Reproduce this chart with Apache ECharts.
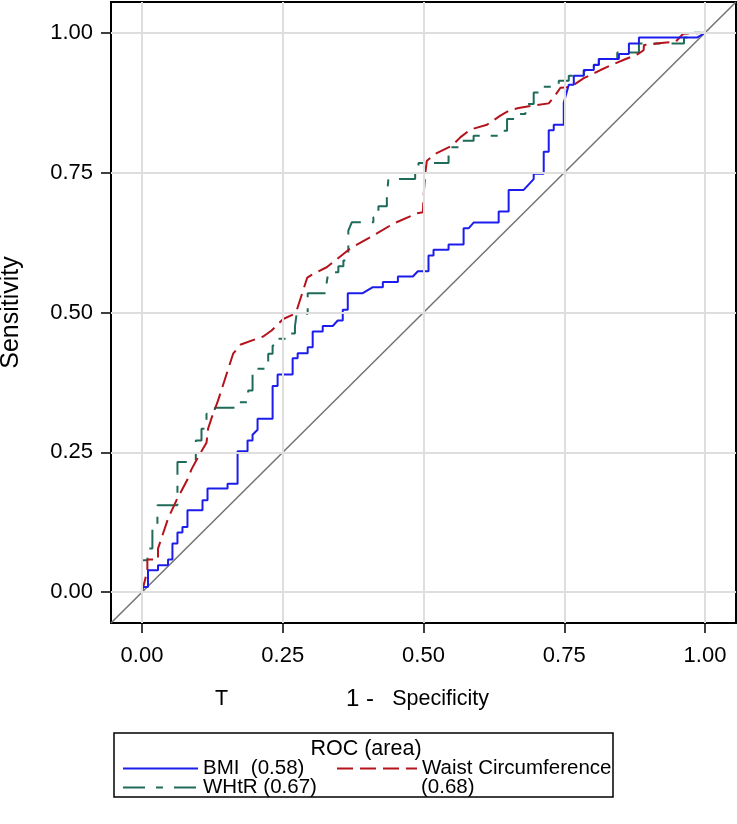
<!DOCTYPE html>
<html>
<head>
<meta charset="utf-8">
<script src="https://cdn.jsdelivr.net/npm/echarts@6/dist/echarts.min.js"></script>
<style>
html,body{margin:0;padding:0;background:#fff;}
#chart{width:737px;height:824px;}
</style>
</head>
<body>
<div id="chart"></div>
<script>
// ---- data ----
const tickValues = [0, 0.25, 0.5, 0.75, 1];
const axisRange = [-0.055, 1.055];
const diagonalEnds = [[-0.055, -0.055], [1.055, 1.055]];
const seriesNames = ['BMI', 'Waist Circumference', 'WHtR'];
const aucValues = ['0.58', '0.68', '0.67'];

const bmiPoints = [[0,0],[0,0.0095],[0.0107,0.0095],[0.0107,0.0393],[0.0285,0.0393],[0.0285,0.0482],[0.0463,0.0482],[0.0463,0.0584],[0.0541,0.0584],[0.0541,0.087],[0.063,0.087],[0.063,0.1066],[0.0719,0.1066],[0.0719,0.1166],[0.0808,0.1166],[0.0808,0.1464],[0.1075,0.1464],[0.1075,0.1643],[0.1164,0.1643],[0.1164,0.1852],[0.152,0.1852],[0.152,0.1941],[0.1698,0.1941],[0.1698,0.2518],[0.1875,0.2518],[0.1875,0.2714],[0.1964,0.2714],[0.1964,0.2816],[0.2053,0.2905],[0.2053,0.3102],[0.232,0.3102],[0.232,0.3688],[0.2409,0.3688],[0.2409,0.3893],[0.2676,0.3893],[0.2676,0.4184],[0.2765,0.4184],[0.2765,0.4273],[0.2943,0.4273],[0.2943,0.438],[0.3032,0.438],[0.3032,0.4661],[0.321,0.4661],[0.321,0.4759],[0.3388,0.4759],[0.3477,0.4857],[0.3566,0.4857],[0.3566,0.5048],[0.3655,0.5048],[0.3655,0.5345],[0.3922,0.5345],[0.41,0.5452],[0.4278,0.5452],[0.4278,0.5545],[0.4545,0.5545],[0.4545,0.5643],[0.4811,0.5643],[0.49,0.5738],[0.5089,0.5738],[0.5089,0.6018],[0.5178,0.6018],[0.5178,0.612],[0.5445,0.612],[0.5445,0.6214],[0.5712,0.6214],[0.5712,0.6505],[0.5801,0.6505],[0.589,0.6607],[0.6335,0.6607],[0.6335,0.6804],[0.6512,0.6804],[0.6512,0.7191],[0.6779,0.7191],[0.6957,0.7384],[0.6957,0.7482],[0.7135,0.7482],[0.7135,0.7875],[0.7224,0.7875],[0.7224,0.8259],[0.7313,0.8259],[0.7313,0.8357],[0.7491,0.8357],[0.7491,0.875],[0.758,0.9071],[0.7669,0.9071],[0.7669,0.9232],[0.7847,0.9232],[0.7847,0.9334],[0.8025,0.9334],[0.8025,0.9423],[0.8114,0.9423],[0.8114,0.953],[0.847,0.953],[0.847,0.962],[0.8648,0.962],[0.8648,0.9809],[0.8826,0.9809],[0.8826,0.9916],[0.9865,0.9916],[1,1]];

const waistPoints = [[0,0],[0.0096,0.0393],[0.0096,0.0584],[0.0285,0.0584],[0.0285,0.078],[0.0463,0.1316],[0.0612,0.1643],[0.0801,0.2],[0.0879,0.2196],[0.1044,0.25],[0.1146,0.267],[0.1174,0.2923],[0.124,0.3125],[0.1352,0.3429],[0.1619,0.4263],[0.1756,0.4429],[0.2153,0.4571],[0.2302,0.4679],[0.2509,0.4884],[0.2687,0.4964],[0.2747,0.5036],[0.2936,0.5625],[0.3014,0.5673],[0.3281,0.5809],[0.3696,0.6143],[0.411,0.6375],[0.4466,0.6589],[0.4883,0.6773],[0.4989,0.6791],[0.5,0.7059],[0.503,0.7477],[0.506,0.7714],[0.5208,0.7834],[0.5505,0.7982],[0.5653,0.813],[0.5831,0.8268],[0.6128,0.8357],[0.6365,0.8518],[0.6543,0.862],[0.669,0.8655],[0.6899,0.8691],[0.7224,0.8738],[0.7313,0.8845],[0.7432,0.9018],[0.761,0.903],[0.7847,0.9188],[0.8144,0.9334],[0.8352,0.9429],[0.8559,0.9518],[0.8811,0.962],[0.8909,0.9688],[0.8915,0.978],[0.9176,0.9813],[0.9479,0.9839],[0.9612,0.9982],[1,1]];

const whtrPoints = [[0,0],[0,0.0571],[0.0096,0.0571],[0.0096,0.078],[0.0185,0.078],[0.0185,0.1148],[0.0274,0.1148],[0.0274,0.1554],[0.063,0.1554],[0.063,0.2327],[0.0956,0.2327],[0.0956,0.2714],[0.1057,0.2714],[0.1057,0.2923],[0.1146,0.2923],[0.1146,0.3191],[0.1294,0.3191],[0.1294,0.3298],[0.1708,0.3298],[0.1708,0.3398],[0.1886,0.3398],[0.1886,0.3607],[0.1964,0.3607],[0.1964,0.3995],[0.2242,0.3995],[0.2242,0.4263],[0.232,0.4263],[0.232,0.4411],[0.2391,0.4411],[0.2391,0.453],[0.2616,0.453],[0.2616,0.4625],[0.2717,0.4625],[0.2717,0.475],[0.2747,0.475],[0.2747,0.4977],[0.2943,0.4977],[0.2943,0.5345],[0.3281,0.5345],[0.3281,0.5541],[0.331,0.5541],[0.331,0.572],[0.3488,0.572],[0.3488,0.5827],[0.3577,0.5827],[0.3577,0.5929],[0.3665,0.5929],[0.3665,0.6464],[0.3726,0.6613],[0.411,0.6613],[0.411,0.6702],[0.4199,0.6702],[0.4199,0.6898],[0.4349,0.6898],[0.4349,0.7089],[0.4377,0.7089],[0.4377,0.7388],[0.4852,0.7388],[0.4852,0.7477],[0.4911,0.7477],[0.4911,0.7673],[0.5445,0.7673],[0.5445,0.7952],[0.5623,0.7952],[0.5623,0.8071],[0.589,0.8071],[0.589,0.8161],[0.6335,0.8161],[0.6335,0.825],[0.6484,0.825],[0.6484,0.8459],[0.6662,0.8459],[0.6662,0.8548],[0.681,0.8548],[0.681,0.8727],[0.6957,0.8727],[0.6957,0.8934],[0.7107,0.8934],[0.7107,0.9036],[0.7402,0.9036],[0.7402,0.9143],[0.758,0.9143],[0.758,0.9232],[0.7847,0.9232],[0.7847,0.9321],[0.8025,0.9321],[0.8025,0.9429],[0.8114,0.9429],[0.8114,0.953],[0.8441,0.953],[0.8441,0.9648],[0.8826,0.9648],[0.8826,0.9809],[0.9626,0.9809],[0.9626,0.9916],[0.9804,0.9916],[0.9804,1],[1,1]];

// ---- chart ----
const FONT = '"Liberation Sans", Arial, sans-serif';
const chart = echarts.init(document.getElementById('chart'), null, {renderer: 'canvas'});
const fmt = v => Number(v).toFixed(2);
const legendLabel = {};
legendLabel[seriesNames[0]] = seriesNames[0] + '  (' + aucValues[0] + ')';
legendLabel[seriesNames[1]] = seriesNames[1];
legendLabel[seriesNames[2]] = seriesNames[2] + ' (' + aucValues[2] + ')';

function valueAxis(extra) {
  return Object.assign({
    type: 'value',
    min: axisRange[0],
    max: axisRange[1],
    axisLine: {show: true, onZero: false, lineStyle: {color: '#000', width: 2}},
    axisTick: {show: true, customValues: tickValues, length: 10, lineStyle: {color: '#000', width: 1.5}},
    splitLine: {show: false}
  }, extra);
}

const gridLines = tickValues.map(v => ({xAxis: v})).concat(tickValues.map(v => ({yAxis: v})));

const legendBase = {
  orient: 'horizontal',
  itemHeight: 14,
  formatter: n => legendLabel[n],
  textStyle: {fontSize: 20.5, color: '#000', fontFamily: FONT},
  itemStyle: {opacity: 0},
  lineStyle: {width: 2},
  selectedMode: false,
  padding: 0
};

const option = {
  animation: false,
  backgroundColor: '#fff',
  textStyle: {fontFamily: FONT},
  grid: {left: 111, top: 2, width: 625, height: 621, show: true, borderColor: '#000', borderWidth: 2, backgroundColor: '#fff', containLabel: false, outerBoundsMode: 'none'},
  xAxis: valueAxis({
    axisLabel: {customValues: tickValues, formatter: fmt, color: '#000', fontSize: 22, fontFamily: FONT, margin: 22},
    name: '{a|1 - }  {b|Specificity}',
    nameLocation: 'middle',
    nameGap: 64,
    nameTextStyle: {color: '#000', fontSize: 21, fontFamily: FONT, padding: [0, 12, 0, 0],
      rich: {a: {fontSize: 24, fontFamily: FONT, color: '#000'}, b: {fontSize: 21.5, fontFamily: FONT, color: '#000'}}}
  }),
  yAxis: valueAxis({
    axisLabel: {customValues: tickValues, formatter: fmt, color: '#000', fontSize: 22, fontFamily: FONT, margin: 18},
    name: 'Sensitivity',
    nameLocation: 'middle',
    nameGap: 87,
    nameRotate: 90,
    nameTextStyle: {color: '#000', fontSize: 25, fontFamily: FONT}
  }),
  title: {
    text: 'ROC (area)',
    left: 366, top: 738, textAlign: 'center', padding: 0,
    textStyle: {fontSize: 21.5, fontWeight: 'normal', color: '#000', fontFamily: FONT}
  },
  legend: [
    Object.assign({}, legendBase, {data: [seriesNames[0]], left: 122, top: 758, itemWidth: 75}),
    Object.assign({}, legendBase, {data: [seriesNames[1]], left: 336, top: 758, itemWidth: 80}),
    Object.assign({}, legendBase, {data: [seriesNames[2]], left: 122, top: 777, itemWidth: 75})
  ],
  graphic: [
    {type: 'rect', shape: {x: 114, y: 733, width: 499, height: 64}, style: {fill: 'none', stroke: '#000', lineWidth: 1.5}, silent: true},
    {type: 'text', left: 421, top: 777, style: {text: '(' + aucValues[1] + ')', fontSize: 20.5, fontFamily: FONT, fill: '#000'}},
    {type: 'text', left: 215, top: 688, style: {text: 'T', fontSize: 21.5, fontFamily: FONT, fill: '#000'}}
  ],
  series: [
    {
      name: 'diagonal', type: 'line', data: diagonalEnds, symbol: 'none', z: 1,
      lineStyle: {color: '#737373', width: 1.5}, silent: true,
      markLine: {silent: true, symbol: ['none', 'none'], label: {show: false}, animation: false,
        lineStyle: {color: '#dedede', width: 2, type: 'solid'}, data: gridLines}
    },
    {
      name: seriesNames[2], type: 'line', data: whtrPoints, symbol: 'none', showSymbol: false, z: 3,
      itemStyle: {color: '#1f6b5a'},
      lineStyle: {color: '#1f6b5a', width: 2, type: [22, 11, 7, 11]}
    },
    {
      name: seriesNames[1], type: 'line', data: waistPoints, symbol: 'none', showSymbol: false, z: 3,
      itemStyle: {color: '#b5121b'},
      lineStyle: {color: '#b5121b', width: 2, type: [16, 7]}
    },
    {
      name: seriesNames[0], type: 'line', data: bmiPoints, symbol: 'none', showSymbol: false, z: 4,
      itemStyle: {color: '#1c1ced'},
      lineStyle: {color: '#1c1ced', width: 2, type: 'solid'}
    }
  ]
};
chart.setOption(option);
</script>
</body>
</html>
